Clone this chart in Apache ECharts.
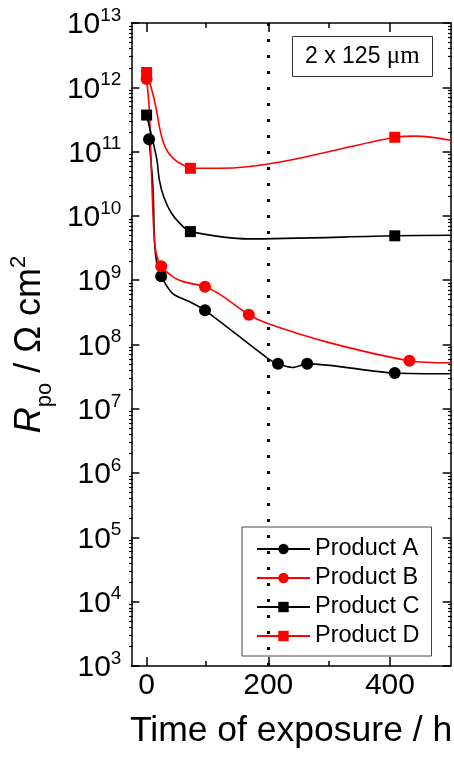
<!DOCTYPE html>
<html>
<head>
<meta charset="utf-8">
<script src="https://cdn.jsdelivr.net/npm/echarts@6/dist/echarts.min.js"></script>
<style>
  html, body { margin: 0; padding: 0; background: #fff; }
  #chart { width: 454px; height: 763px; }
</style>
</head>
<body>
<div id="chart"></div>
<script>
// Measured pore resistance Rpo (Ω cm²) versus exposure time (h)
const timeA = [4, 24, 96, 216, 264, 408];
const rpoA  = [1.55e11, 1.15e9, 3.4e8, 5.0e7, 5.0e7, 3.6e7];
const timeB = [0, 24, 96, 168, 432];
const rpoB  = [1.35e12, 1.65e9, 7.9e8, 2.9e8, 5.6e7];
const timeC = [0, 72, 408];
const rpoC  = [3.7e11, 5.7e9, 4.9e9];
const timeD = [0, 72, 408];
const rpoD  = [1.7e12, 5.5e10, 1.67e11];

// Extra points along each fitted trend curve (between and after the measurements)
const fitTimeA = [10.4, 13, 17, 42, 69, 199, 240, 500];
const fitRpoA  = [2.8e10, 4.0e9, 1.8e9, 6.3e8, 4.7e8, 6.1e7, 4.4e7, 3.5e7];
const fitTimeB = [4.4, 8.8, 14, 44, 60, 123, 200, 300, 500];
const fitRpoB  = [4.5e11, 2.8e10, 3.3e9, 1.12e9, 9.5e8, 5.8e8, 2.1e8, 1.07e8, 5.2e7];
const fitTimeC = [11, 17, 21, 28, 41, 60, 166, 500];
const fitRpoC  = [1.35e11, 7.4e10, 3.6e10, 2.0e10, 1.1e10, 6.8e9, 4.4e9, 5.0e9];
const fitTimeD = [10, 16, 22, 28, 36, 49, 63, 120, 220, 443, 500];
const fitRpoD  = [8.1e11, 4.5e11, 2.2e11, 1.35e11, 9.5e10, 7.1e10, 6.0e10, 5.5e10, 6.9e10, 1.74e11, 1.5e11];

// Axis ticks and annotations
const timeLabels = [0, 200, 400];
const timeMinorTicks = [100, 300];
const decadeMinorFactors = [2, 3, 4, 5, 6, 7, 8, 9];
const markerTime = 200;
const coatingText = '2 x 125 ';

const FONT = 'Liberation Sans';

// Minor tick positions of the log axis: 2..9 times each decade
const rpoMinorTicks = [];
for (let e = 3; e < 13; e++) {
  decadeMinorFactors.forEach(f => rpoMinorTicks.push(f * Math.pow(10, e)));
}

// Merge measured points (with symbol) and curve points (no symbol), sorted by time
function buildData(times, values, fitTimes, fitValues) {
  const pts = [];
  times.forEach((t, i) => pts.push({ value: [t, values[i]] }));
  fitTimes.forEach((t, i) => pts.push({ value: [t, fitValues[i]], symbol: 'none' }));
  pts.sort((a, b) => a.value[0] - b.value[0]);
  return pts;
}

function productSeries(name, color, symbol, size, times, values, fitTimes, fitValues) {
  return {
    name, type: 'line', xAxisIndex: 0, yAxisIndex: 0,
    smooth: 0.3,
    symbol, symbolSize: size,
    showAllSymbol: true,
    itemStyle: { color },
    lineStyle: { color, width: 1.6 },
    emphasis: { disabled: true },
    clip: true,
    data: buildData(times, values, fitTimes, fitValues)
  };
}

const axisCommonX = {
  type: 'value', min: -25, max: 500,
  splitLine: { show: false }
};
const axisCommonY = {
  type: 'log', logBase: 10, min: 1e3, max: 1e13,
  splitLine: { show: false }
};
const lineBlack = { color: '#000', width: 1.5 };
const minorTickStyle = { color: '#000', width: 1.2 };

const chart = echarts.init(document.getElementById('chart'));
chart.setOption({
  animation: false,
  backgroundColor: '#fff',
  grid: [
    { left: 129, right: 2, top: 23, bottom: 97 },
    { left: 129, right: 2, top: 23, bottom: 97 }
  ],
  title: {
    text: '{a|' + coatingText + '}{b|μm}',
    left: 292, top: 36,
    padding: [8, 13, 8, 13],
    borderColor: '#333', borderWidth: 1,
    backgroundColor: '#fff',
    textStyle: {
      fontWeight: 'normal',
      rich: {
        a: { fontFamily: FONT, fontSize: 23, fontWeight: 'normal', color: '#000' },
        b: { fontFamily: 'Liberation Serif', fontSize: 25, fontWeight: 'normal', color: '#000' }
      }
    }
  },
  legend: {
    orient: 'vertical',
    left: 242, top: 527,
    padding: [10, 12, 8, 14],
    itemWidth: 53, itemHeight: 13, itemGap: 5,
    borderColor: '#444', borderWidth: 1,
    backgroundColor: '#fff',
    selectedMode: false,
    textStyle: { fontFamily: FONT, fontSize: 23.5, color: '#000' },
    data: ['Product A', 'Product B', 'Product C', 'Product D']
  },
  xAxis: [
    Object.assign({}, axisCommonX, {
      gridIndex: 0, position: 'bottom',
      name: 'Time of exposure / h', nameLocation: 'middle', nameGap: 47,
      nameTextStyle: { fontFamily: FONT, fontSize: 35.5, color: '#000' },
      axisLine: { show: true, onZero: false, lineStyle: lineBlack },
      axisTick: { show: true, inside: true, length: 9, customValues: timeLabels, lineStyle: lineBlack },
      axisLabel: { customValues: timeLabels, fontFamily: FONT, fontSize: 30, color: '#000', margin: 5 }
    }),
    Object.assign({}, axisCommonX, {
      gridIndex: 0, position: 'top',
      axisLine: { show: true, onZero: false, lineStyle: lineBlack },
      axisTick: { show: true, inside: true, length: 9, customValues: timeLabels, lineStyle: lineBlack },
      axisLabel: { show: false }
    }),
    Object.assign({}, axisCommonX, {
      gridIndex: 1, position: 'bottom',
      axisLine: { show: false, onZero: false },
      axisTick: { show: true, inside: true, length: 5, customValues: timeMinorTicks, lineStyle: lineBlack },
      axisLabel: { show: false }
    }),
    Object.assign({}, axisCommonX, {
      gridIndex: 1, position: 'top',
      axisLine: { show: false, onZero: false },
      axisTick: { show: true, inside: true, length: 5, customValues: timeMinorTicks, lineStyle: lineBlack },
      axisLabel: { show: false }
    })
  ],
  yAxis: [
    Object.assign({}, axisCommonY, {
      gridIndex: 0, position: 'left', interval: 1,
      name: '{i|R}{sub|po}{t| / Ω cm}{sup|2}',
      nameLocation: 'middle', nameGap: 64,
      nameTextStyle: {
        rich: {
          i: { fontFamily: FONT, fontSize: 36, fontStyle: 'italic', color: '#000', verticalAlign: 'bottom', lineHeight: 40 },
          sub: { fontFamily: FONT, fontSize: 22, color: '#000', verticalAlign: 'bottom', lineHeight: 40, padding: [0, 0, -8, 0] },
          t: { fontFamily: FONT, fontSize: 36, color: '#000', verticalAlign: 'bottom', lineHeight: 40 },
          sup: { fontFamily: FONT, fontSize: 22, color: '#000', verticalAlign: 'top', lineHeight: 22 }
        }
      },
      axisLine: { show: true, onZero: false, lineStyle: lineBlack },
      axisTick: { show: true, inside: true, length: 8, lineStyle: lineBlack },
      axisLabel: {
        margin: 10,
        formatter: v => '{b|10}{s|' + Math.round(Math.log10(v)) + '}',
        rich: {
          b: { fontFamily: FONT, fontSize: 30, color: '#000', verticalAlign: 'bottom', lineHeight: 34 },
          s: { fontFamily: FONT, fontSize: 19, color: '#000', verticalAlign: 'top', lineHeight: 19 }
        }
      }
    }),
    Object.assign({}, axisCommonY, {
      gridIndex: 0, position: 'right', interval: 1,
      axisLine: { show: true, onZero: false, lineStyle: lineBlack },
      axisTick: { show: true, inside: true, length: 8, lineStyle: lineBlack },
      axisLabel: { show: false }
    }),
    Object.assign({}, axisCommonY, {
      gridIndex: 1, position: 'left',
      axisLine: { show: false, onZero: false },
      axisTick: { show: true, inside: true, length: 4, customValues: rpoMinorTicks, lineStyle: minorTickStyle },
      axisLabel: { show: false }
    }),
    Object.assign({}, axisCommonY, {
      gridIndex: 1, position: 'right',
      axisLine: { show: false, onZero: false },
      axisTick: { show: true, inside: true, length: 4, customValues: rpoMinorTicks, lineStyle: minorTickStyle },
      axisLabel: { show: false }
    })
  ],
  series: [
    Object.assign(productSeries('Product A', '#000000', 'circle', 12, timeA, rpoA, fitTimeA, fitRpoA), {
      markLine: {
        silent: true, symbol: 'none', animation: false,
        label: { show: false },
        lineStyle: { color: '#000', width: 3, type: [3, 13] },
        data: [{ xAxis: markerTime }]
      }
    }),
    productSeries('Product B', '#ff0000', 'circle', 12, timeB, rpoB, fitTimeB, fitRpoB),
    productSeries('Product C', '#000000', 'rect', 11, timeC, rpoC, fitTimeC, fitRpoC),
    productSeries('Product D', '#ff0000', 'rect', 11, timeD, rpoD, fitTimeD, fitRpoD)
  ]
});
</script>
</body>
</html>
